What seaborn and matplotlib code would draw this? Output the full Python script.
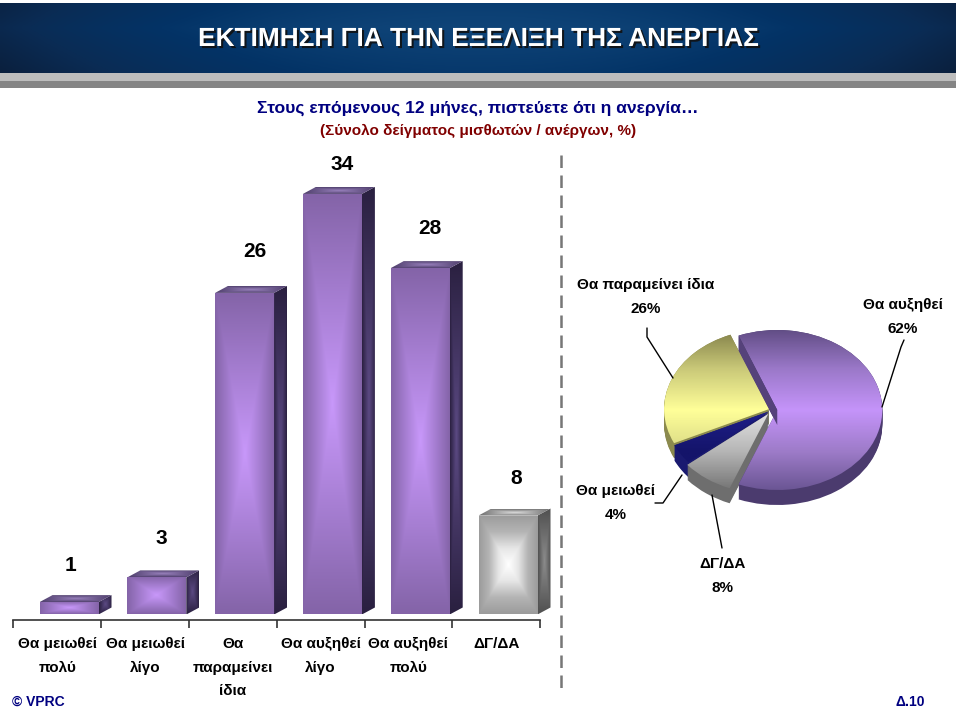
import numpy as np
import matplotlib
matplotlib.use('Agg')
import matplotlib.pyplot as plt
import matplotlib.patheffects as pe
from matplotlib.colors import LinearSegmentedColormap as LSC
from matplotlib.patches import Polygon
import seaborn as sns

categories = ['Θα μειωθεί\nπολύ', 'Θα μειωθεί\nλίγο', 'Θα\nπαραμείνει\nίδια',
              'Θα αυξηθεί\nλίγο', 'Θα αυξηθεί\nπολύ', 'ΔΓ/ΔΑ']
values = [1, 3, 26, 34, 28, 8]

pie_names = ['Θα αυξηθεί', 'Θα παραμείνει ίδια', 'Θα μειωθεί', 'ΔΓ/ΔΑ']
pie_shares = [62, 26, 4, 8]

title = 'ΕΚΤΙΜΗΣΗ ΓΙΑ ΤΗΝ ΕΞΕΛΙΞΗ ΤΗΣ ΑΝΕΡΓΙΑΣ'
question = 'Στους επόμενους 12 μήνες, πιστεύετε ότι η ανεργία…'
base_note = '(Σύνολο δείγματος μισθωτών / ανέργων, %)'

sns.set_theme(style='white')
plt.rcParams['font.family'] = ['Liberation Sans', 'DejaVu Sans']
plt.rcParams['text.color'] = 'black'

W, H = 960, 710
fig = plt.figure(figsize=(W / 100, H / 100), dpi=100, facecolor='white')

# page layer in pixel coordinates: banner, texts, divider, leader lines
page = fig.add_axes([0, 0, 1, 1])
page.set_xlim(0, W)
page.set_ylim(H, 0)
page.axis('off')

gx = np.abs(np.linspace(-1, 1, 300))
gy = np.linspace(0, 1, 60)
X, Y = np.meshgrid(gx, gy)
banner_cm = LSC.from_list('b', ['#0f4478', '#033366', '#0a2c55', '#0b1f3c'])
page.imshow(0.75 * X ** 2 + 0.35 * np.abs(Y - 0.35), cmap=banner_cm, vmin=0, vmax=1,
            extent=[0, 956, 73, 3], aspect='auto', zorder=1)
page.fill_between([0, 956], 73, 81, color='#bdbdbd', lw=0, zorder=1)
page.fill_between([0, 956], 81, 88, color='#858585', lw=0, zorder=1)
page.set_xlim(0, W)
page.set_ylim(H, 0)

page.text(478, 39, title, color='white', fontsize=18.9, fontweight='bold', ha='center', va='center', zorder=3,
          path_effects=[pe.withSimplePatchShadow(offset=(1.5, -1.5), shadow_rgbFace='#111111', alpha=0.9)])
page.text(478, 108, question, color='#000080', fontsize=12.6, fontweight='bold', ha='center', va='center')
page.text(478, 131, base_note, color='#800000', fontsize=11, fontweight='bold', ha='center', va='center')
page.plot([561, 561], [155, 692], color='#777777', lw=1.8, ls=(0, (5, 3)))
page.text(12, 702, '© VPRC', color='#000080', fontsize=10, fontweight='bold', ha='left', va='center')
page.text(925, 702, 'Δ.10', color='#000080', fontsize=10, fontweight='bold', ha='right', va='center')

# bar chart
px_unit = 12.37
spacing = 87.8
ax_left, ax_right, ax_base = 13.3, 540.3, 620
base_y = 614.5
ax_top = 100
ax = fig.add_axes([ax_left / W, (H - ax_base) / H, (ax_right - ax_left) / W, (ax_base - ax_top) / H])
ax.patch.set_alpha(0)
sns.barplot(x=categories, y=values, width=59 / spacing, color='#8666a8', ax=ax, zorder=2)
x_low = (ax_left - 69) / spacing
x_high = (ax_right - 69) / spacing
y_low, y_high = -(ax_base - base_y) / px_unit, (base_y - ax_top) / px_unit

purple_cm = LSC.from_list('p', ['#c898fa', '#a67ed2', '#8464a8'])
gray_cm = LSC.from_list('g', ['#ffffff', '#e6e6e6', '#b4b4b4', '#9c9c9c'])
side_purple = LSC.from_list('sp', ['#5c4a84', '#2a2040'])
side_gray = LSC.from_list('sg', ['#8c8c8c', '#505050'])
top_purple = LSC.from_list('tp', ['#9880bc', '#4f3f6c'])
top_gray = LSC.from_list('tg', ['#dcdcdc', '#707070'])

dx, dy = 13 / spacing, 7 / px_unit
u = np.linspace(-1, 1, 120)
U, V = np.meshgrid(u, u)
box_fade = np.maximum(np.abs(U), np.abs(V))
label_shift = [(1, 37), (5, 39), (10, 41), (10, 29), (10, 40), (8, 37)]


def fill_box(outline, cmap, extent):
    ax.add_patch(outline)
    img = ax.imshow(box_fade, cmap=cmap, vmin=0, vmax=1, aspect='auto', extent=extent, zorder=3)
    img.set_clip_box(fig.bbox)
    img.set_clip_path(outline)


for i, bar in enumerate(ax.patches):
    x0, w, h = bar.get_x(), bar.get_width(), bar.get_height()
    grey = categories[i] == 'ΔΓ/ΔΑ'
    bar.set_linewidth(0)
    bar.set_facecolor('none')
    img = ax.imshow(box_fade, cmap=gray_cm if grey else purple_cm, vmin=0, vmax=1, aspect='auto',
                    extent=[x0, x0 + w, 0, h], zorder=3)
    img.set_clip_path(bar)
    side = Polygon([(x0 + w, 0), (x0 + w + dx, dy), (x0 + w + dx, h + dy), (x0 + w, h)], lw=0, fc='none', zorder=2)
    fill_box(side, side_gray if grey else side_purple, [x0 + w, x0 + w + dx, 0, h + dy])
    lid = Polygon([(x0, h), (x0 + dx, h + dy), (x0 + w + dx, h + dy), (x0 + w, h)], lw=0, fc='none', zorder=2)
    fill_box(lid, top_gray if grey else top_purple, [x0, x0 + w + dx, h, h + dy])
    ax.annotate(str(values[i]), (x0 + w / 2, h), xytext=label_shift[i], textcoords='offset pixels',
                ha='center', va='center', fontsize=15, fontweight='bold', color='black', zorder=4)

ax.set_xlim(x_low, x_high)
ax.set_ylim(y_low, y_high)
sns.despine(ax=ax, left=True)
ax.set_yticks([])
ax.set_ylabel('')
ax.spines['bottom'].set_color('#333333')
ax.spines['bottom'].set_linewidth(1.2)
edges = [x_low + k for k in range(7)]
ax.set_xticks(edges, labels=[''] * 7)
ax.set_xticks([x_low + k + 0.5 for k in range(6)], labels=categories, minor=True)
ax.tick_params(axis='x', which='major', length=6, width=1.2, color='#333333', bottom=True)
ax.tick_params(axis='x', which='minor', length=0, pad=12, labelsize=11, labelcolor='black')
for lab in ax.get_xticklabels(minor=True):
    lab.set_fontweight('bold')
    lab.set_verticalalignment('top')
    lab.set_linespacing(1.9)

# pie chart, squashed to an ellipse to fake the tilt
rx, ry = 105, 80
pie_ax = fig.add_axes([(772 - 1.25 * rx) / W, (H - 410 - 1.25 * ry) / H, 2.5 * rx / W, 2.5 * ry / H])
explode = [0.05, 0.03, 0.03, 0.06]
start = -111.6
depth = 15
side_cols = ['#4b3b6e', '#8b8a4e', '#1a1a70', '#6e6e6e']
for d in range(depth, 0, -1):
    pie_ax.pie(pie_shares, explode=explode, startangle=start, colors=side_cols,
               center=(0, -d / ry), wedgeprops={'linewidth': 0})
wedges, _ = pie_ax.pie(pie_shares, explode=explode, startangle=start, colors=side_cols, wedgeprops={'linewidth': 0})

slice_cms = [
    LSC.from_list('w0', ['#5d4a80', '#9a78c8', '#c594fa', '#9d7bc8', '#66528f']),
    LSC.from_list('w1', ['#7c7a45', '#c9c878', '#ffff99', '#d8d884', '#77763f']),
    LSC.from_list('w2', ['#2a2a90', '#2a2a90', '#1f1f8a', '#14146a', '#14146a']),
    LSC.from_list('w3', ['#777777', '#b5b5b5', '#e6e6e6', '#b5b5b5', '#6f6f6f']),
]
ramp = np.linspace(0, 1, 200).reshape(-1, 1)
for wedge, cm in zip(wedges, slice_cms):
    img = pie_ax.imshow(ramp, cmap=cm, aspect='auto', extent=[-1.3, 1.3, -1.05, 1.05], zorder=3)
    img.set_clip_path(wedge)

# cut face of the big slice shows above its top surface
big = wedges[0]
cx, cy = big.center
a = np.deg2rad(big.theta2)
rim = (cx + np.cos(a), cy + np.sin(a))
drop = depth / ry
pie_ax.add_patch(Polygon([rim, (cx, cy), (cx, cy - drop), (rim[0], rim[1] - drop)],
                         fc='#55427a', lw=0, zorder=4))
pie_ax.set_aspect('auto')
pie_ax.set_xlim(-1.25, 1.25)
pie_ax.set_ylim(-1.25, 1.25)

page.set_zorder(5)
lab_kw = dict(ha='center', va='center', fontsize=11, fontweight='bold', linespacing=1.9)
page.text(646, 297, pie_names[1] + '\n%d%%' % pie_shares[1], **lab_kw)
page.text(903, 317, pie_names[0] + '\n%d%%' % pie_shares[0], **lab_kw)
page.text(616, 503, pie_names[2] + '\n%d%%' % pie_shares[2], **lab_kw)
page.text(723, 576, pie_names[3] + '\n%d%%' % pie_shares[3], **lab_kw)
for xs, ys in [([647, 647, 673], [328, 337, 378]),
               ([904, 901, 882], [340, 347, 407]),
               ([655, 663, 682], [503, 503, 475]),
               ([712, 722], [495, 548])]:
    page.plot(xs, ys, color='black', lw=1)

fig.savefig('out.png', dpi=100)
